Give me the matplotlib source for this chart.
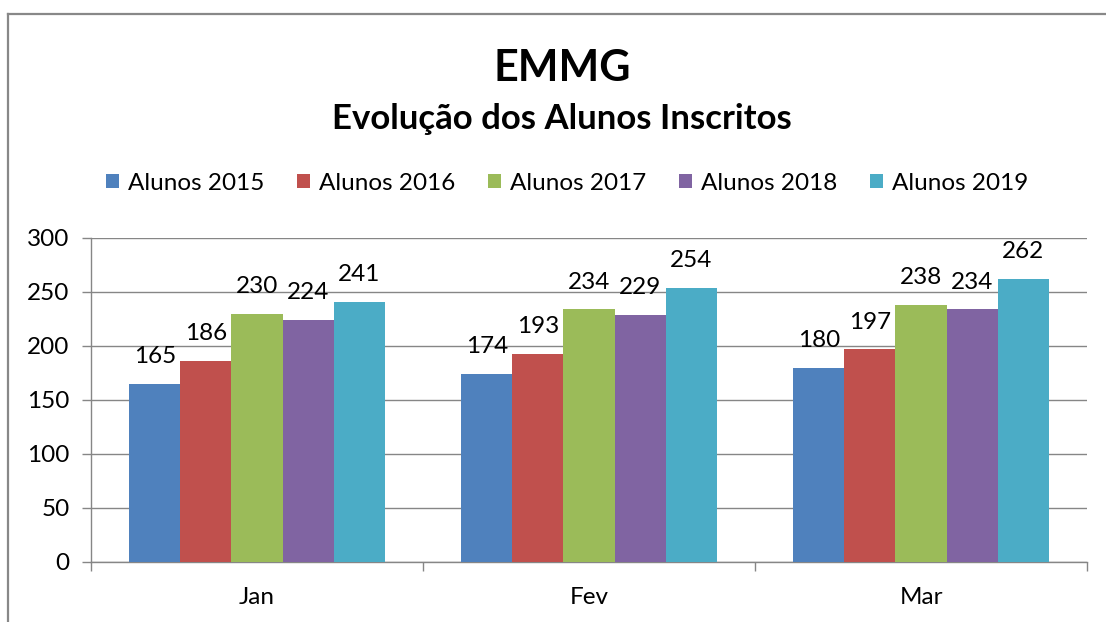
import matplotlib
matplotlib.use("Agg")
import matplotlib.pyplot as plt
from matplotlib.patches import Patch
from matplotlib.lines import Line2D
import numpy as np

plt.rcParams['font.family'] = ['Lato', 'DejaVu Sans']

meses = ["Jan", "Fev", "Mar"]
series = ["Alunos 2015", "Alunos 2016", "Alunos 2017", "Alunos 2018", "Alunos 2019"]
alunos_2015 = [165, 174, 180]
alunos_2016 = [186, 193, 197]
alunos_2017 = [230, 234, 238]
alunos_2018 = [224, 229, 234]
alunos_2019 = [241, 254, 262]
valores = [alunos_2015, alunos_2016, alunos_2017, alunos_2018, alunos_2019]
cores = ["#4F81BD", "#C0504D", "#9BBB59", "#8064A2", "#4BACC6"]
yticks = [0, 50, 100, 150, 200, 250, 300]

fig = plt.figure(figsize=(11.06, 6.22), dpi=100)
ax = fig.add_axes([91/1106, 1-562/622, (1087-91)/1106, (562-238)/622])

# moldura estilo Excel (topo e esquerda)
fig.add_artist(Line2D([8/1106, 8/1106], [0, 1-14/622], color="#888888", lw=1.6))
fig.add_artist(Line2D([8/1106, 1], [1-14/622, 1-14/622], color="#888888", lw=1.6))

w = 1/6.5
x = np.arange(len(meses))
for j, (nome, vals, cor) in enumerate(zip(series, valores, cores)):
    pos = x + (j - 2) * w
    ax.bar(pos, vals, width=w, color=cor, label=nome, zorder=3)
    for px, v in zip(pos, vals):
        ax.annotate(str(v), (px, v), xytext=(0, 12), textcoords="offset points",
                    ha="center", va="bottom", fontsize=17.5, color="black")

ax.set_xlim(-0.5, 2.5)
ax.set_ylim(0, 300)
ax.set_yticks(yticks)
ax.tick_params(axis="y", length=6.5, width=1, color="#868686", labelsize=17.5, pad=9)
ax.set_xticks(x)
ax.set_xticklabels(meses)
ax.set_xticks([-0.5, 0.5, 1.5, 2.5], minor=True)
ax.tick_params(axis="x", which="major", length=0, labelsize=17.5, pad=18)
ax.tick_params(axis="x", which="minor", length=6.5, width=1, color="#868686")
ax.yaxis.grid(True, color="#868686", lw=1, zorder=0)
for s in ["top", "right"]:
    ax.spines[s].set_visible(False)
for s in ["left", "bottom"]:
    ax.spines[s].set_color("#868686")
    ax.spines[s].set_linewidth(1)

fig.text(562/1106, 1-68/622, "EMMG", ha="center", va="center", fontsize=31, fontweight="bold")
fig.text(562/1106, 1-119/622, "Evolução dos Alunos Inscritos", ha="center", va="center",
         fontsize=25, fontweight="bold")

handles = [Patch(facecolor=c, label=n) for n, c in zip(series, cores)]
fig.legend(handles=handles, loc="center", bbox_to_anchor=(567/1106, 1-183/622), ncol=5,
           frameon=False, fontsize=17.5, handlelength=0.55, handleheight=0.55,
           handletextpad=0.35, columnspacing=1.35)

fig.savefig("out.png", dpi=100)
